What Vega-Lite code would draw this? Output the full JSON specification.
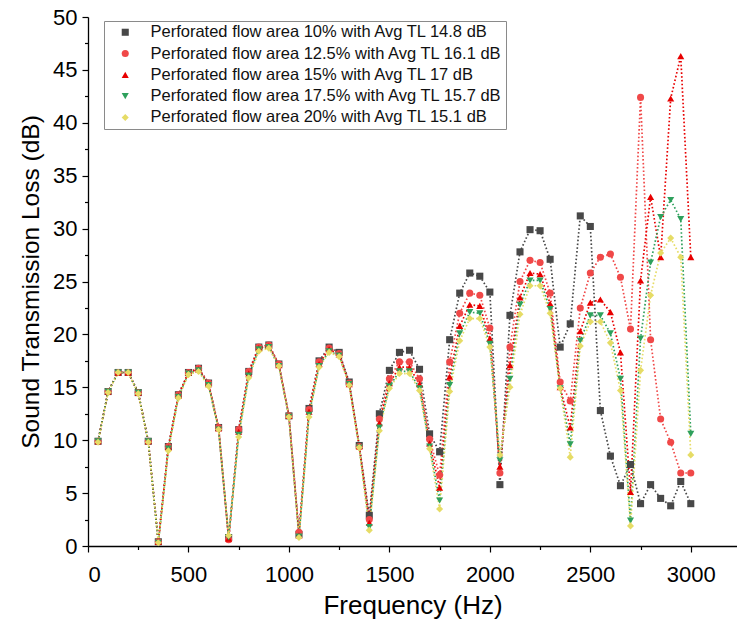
{
"$schema":"https://vega.github.io/schema/vega-lite/v6.json",
"width":649,"height":529,
"autosize":{"type":"none"},
"padding":{"left":88,"top":17,"right":0,"bottom":86},
"background":"white",
"config":{"view":{"stroke":null},"font":"Liberation Sans","axis":{"grid":false,"domainColor":"black","tickColor":"black","labelColor":"black","titleColor":"black","labelFont":"Liberation Sans","titleFont":"Liberation Sans","titleFontWeight":"normal","domainWidth":1.3,"tickWidth":1.2}},
"data":{"values":[
{"f":50,"s":"10%","v":9.9},{"f":100,"s":"10%","v":14.6},{"f":150,"s":"10%","v":16.4},{"f":200,"s":"10%","v":16.4},{"f":250,"s":"10%","v":14.5},{"f":300,"s":"10%","v":9.9},{"f":350,"s":"10%","v":0.4},{"f":400,"s":"10%","v":9.4},{"f":450,"s":"10%","v":14.3},{"f":500,"s":"10%","v":16.4},{"f":550,"s":"10%","v":16.8},{"f":600,"s":"10%","v":15.4},{"f":650,"s":"10%","v":11.2},{"f":700,"s":"10%","v":0.8},{"f":750,"s":"10%","v":11.0},{"f":800,"s":"10%","v":16.5},{"f":850,"s":"10%","v":18.8},{"f":900,"s":"10%","v":19.0},{"f":950,"s":"10%","v":17.2},{"f":1000,"s":"10%","v":12.3},{"f":1050,"s":"10%","v":1.1},{"f":1100,"s":"10%","v":13.0},{"f":1150,"s":"10%","v":17.5},{"f":1200,"s":"10%","v":18.8},{"f":1250,"s":"10%","v":18.3},{"f":1300,"s":"10%","v":15.5},{"f":1350,"s":"10%","v":9.5},{"f":1400,"s":"10%","v":2.9},{"f":1450,"s":"10%","v":12.5},{"f":1500,"s":"10%","v":16.6},{"f":1550,"s":"10%","v":18.3},{"f":1600,"s":"10%","v":18.5},{"f":1650,"s":"10%","v":16.7},{"f":1700,"s":"10%","v":10.6},{"f":1750,"s":"10%","v":8.9},{"f":1800,"s":"10%","v":19.5},{"f":1850,"s":"10%","v":23.9},{"f":1900,"s":"10%","v":25.8},{"f":1950,"s":"10%","v":25.5},{"f":2000,"s":"10%","v":24.0},{"f":2050,"s":"10%","v":5.8},{"f":2100,"s":"10%","v":21.8},{"f":2150,"s":"10%","v":27.8},{"f":2200,"s":"10%","v":29.9},{"f":2250,"s":"10%","v":29.8},{"f":2300,"s":"10%","v":27.1},{"f":2350,"s":"10%","v":18.8},{"f":2400,"s":"10%","v":21.0},{"f":2450,"s":"10%","v":31.2},{"f":2500,"s":"10%","v":30.2},{"f":2550,"s":"10%","v":12.8},{"f":2600,"s":"10%","v":8.5},{"f":2650,"s":"10%","v":5.7},{"f":2700,"s":"10%","v":7.7},{"f":2750,"s":"10%","v":4.0},{"f":2800,"s":"10%","v":5.8},{"f":2850,"s":"10%","v":4.5},{"f":2900,"s":"10%","v":3.8},{"f":2950,"s":"10%","v":6.1},{"f":3000,"s":"10%","v":4.0},
{"f":50,"s":"12.5%","v":9.9},{"f":100,"s":"12.5%","v":14.6},{"f":150,"s":"12.5%","v":16.4},{"f":200,"s":"12.5%","v":16.4},{"f":250,"s":"12.5%","v":14.5},{"f":300,"s":"12.5%","v":9.9},{"f":350,"s":"12.5%","v":0.4},{"f":400,"s":"12.5%","v":9.4},{"f":450,"s":"12.5%","v":14.3},{"f":500,"s":"12.5%","v":16.4},{"f":550,"s":"12.5%","v":16.8},{"f":600,"s":"12.5%","v":15.4},{"f":650,"s":"12.5%","v":11.2},{"f":700,"s":"12.5%","v":0.6},{"f":750,"s":"12.5%","v":11.0},{"f":800,"s":"12.5%","v":16.5},{"f":850,"s":"12.5%","v":18.8},{"f":900,"s":"12.5%","v":19.0},{"f":950,"s":"12.5%","v":17.2},{"f":1000,"s":"12.5%","v":12.3},{"f":1050,"s":"12.5%","v":1.3},{"f":1100,"s":"12.5%","v":12.9},{"f":1150,"s":"12.5%","v":17.4},{"f":1200,"s":"12.5%","v":18.7},{"f":1250,"s":"12.5%","v":18.2},{"f":1300,"s":"12.5%","v":15.4},{"f":1350,"s":"12.5%","v":9.4},{"f":1400,"s":"12.5%","v":2.5},{"f":1450,"s":"12.5%","v":12.0},{"f":1500,"s":"12.5%","v":15.8},{"f":1550,"s":"12.5%","v":17.4},{"f":1600,"s":"12.5%","v":17.4},{"f":1650,"s":"12.5%","v":15.8},{"f":1700,"s":"12.5%","v":10.1},{"f":1750,"s":"12.5%","v":6.7},{"f":1800,"s":"12.5%","v":17.4},{"f":1850,"s":"12.5%","v":22.0},{"f":1900,"s":"12.5%","v":23.9},{"f":1950,"s":"12.5%","v":23.7},{"f":2000,"s":"12.5%","v":20.6},{"f":2050,"s":"12.5%","v":6.9},{"f":2100,"s":"12.5%","v":18.8},{"f":2150,"s":"12.5%","v":25.0},{"f":2200,"s":"12.5%","v":27.0},{"f":2250,"s":"12.5%","v":26.8},{"f":2300,"s":"12.5%","v":23.9},{"f":2350,"s":"12.5%","v":15.5},{"f":2400,"s":"12.5%","v":13.7},{"f":2450,"s":"12.5%","v":22.5},{"f":2500,"s":"12.5%","v":25.8},{"f":2550,"s":"12.5%","v":27.3},{"f":2600,"s":"12.5%","v":27.6},{"f":2650,"s":"12.5%","v":25.4},{"f":2700,"s":"12.5%","v":20.5},{"f":2750,"s":"12.5%","v":42.4},{"f":2800,"s":"12.5%","v":19.5},{"f":2850,"s":"12.5%","v":12.0},{"f":2900,"s":"12.5%","v":9.8},{"f":2950,"s":"12.5%","v":6.9},{"f":3000,"s":"12.5%","v":6.9},
{"f":50,"s":"15%","v":9.9},{"f":100,"s":"15%","v":14.6},{"f":150,"s":"15%","v":16.4},{"f":200,"s":"15%","v":16.4},{"f":250,"s":"15%","v":14.5},{"f":300,"s":"15%","v":9.9},{"f":350,"s":"15%","v":0.4},{"f":400,"s":"15%","v":9.3},{"f":450,"s":"15%","v":14.2},{"f":500,"s":"15%","v":16.4},{"f":550,"s":"15%","v":16.7},{"f":600,"s":"15%","v":15.3},{"f":650,"s":"15%","v":11.1},{"f":700,"s":"15%","v":0.7},{"f":750,"s":"15%","v":10.8},{"f":800,"s":"15%","v":16.3},{"f":850,"s":"15%","v":18.7},{"f":900,"s":"15%","v":18.9},{"f":950,"s":"15%","v":17.1},{"f":1000,"s":"15%","v":12.3},{"f":1050,"s":"15%","v":1.0},{"f":1100,"s":"15%","v":12.7},{"f":1150,"s":"15%","v":17.2},{"f":1200,"s":"15%","v":18.6},{"f":1250,"s":"15%","v":18.1},{"f":1300,"s":"15%","v":15.3},{"f":1350,"s":"15%","v":9.4},{"f":1400,"s":"15%","v":2.2},{"f":1450,"s":"15%","v":11.6},{"f":1500,"s":"15%","v":15.4},{"f":1550,"s":"15%","v":16.9},{"f":1600,"s":"15%","v":16.9},{"f":1650,"s":"15%","v":15.3},{"f":1700,"s":"15%","v":9.7},{"f":1750,"s":"15%","v":5.5},{"f":1800,"s":"15%","v":16.0},{"f":1850,"s":"15%","v":20.8},{"f":1900,"s":"15%","v":22.8},{"f":1950,"s":"15%","v":22.7},{"f":2000,"s":"15%","v":19.6},{"f":2050,"s":"15%","v":7.5},{"f":2100,"s":"15%","v":17.1},{"f":2150,"s":"15%","v":23.5},{"f":2200,"s":"15%","v":25.8},{"f":2250,"s":"15%","v":25.7},{"f":2300,"s":"15%","v":22.9},{"f":2350,"s":"15%","v":15.0},{"f":2400,"s":"15%","v":11.2},{"f":2450,"s":"15%","v":20.3},{"f":2500,"s":"15%","v":23.0},{"f":2550,"s":"15%","v":23.3},{"f":2600,"s":"15%","v":22.1},{"f":2650,"s":"15%","v":18.3},{"f":2700,"s":"15%","v":5.1},{"f":2750,"s":"15%","v":25.1},{"f":2800,"s":"15%","v":33.0},{"f":2850,"s":"15%","v":27.3},{"f":2900,"s":"15%","v":42.3},{"f":2950,"s":"15%","v":46.3},{"f":3000,"s":"15%","v":27.3},
{"f":50,"s":"17.5%","v":9.9},{"f":100,"s":"17.5%","v":14.6},{"f":150,"s":"17.5%","v":16.4},{"f":200,"s":"17.5%","v":16.4},{"f":250,"s":"17.5%","v":14.5},{"f":300,"s":"17.5%","v":9.9},{"f":350,"s":"17.5%","v":0.3},{"f":400,"s":"17.5%","v":9.2},{"f":450,"s":"17.5%","v":14.1},{"f":500,"s":"17.5%","v":16.3},{"f":550,"s":"17.5%","v":16.6},{"f":600,"s":"17.5%","v":15.2},{"f":650,"s":"17.5%","v":11.0},{"f":700,"s":"17.5%","v":0.8},{"f":750,"s":"17.5%","v":10.5},{"f":800,"s":"17.5%","v":16.1},{"f":850,"s":"17.5%","v":18.6},{"f":900,"s":"17.5%","v":18.8},{"f":950,"s":"17.5%","v":17.0},{"f":1000,"s":"17.5%","v":12.2},{"f":1050,"s":"17.5%","v":0.9},{"f":1100,"s":"17.5%","v":12.4},{"f":1150,"s":"17.5%","v":17.0},{"f":1200,"s":"17.5%","v":18.4},{"f":1250,"s":"17.5%","v":18.0},{"f":1300,"s":"17.5%","v":15.3},{"f":1350,"s":"17.5%","v":9.3},{"f":1400,"s":"17.5%","v":1.8},{"f":1450,"s":"17.5%","v":11.2},{"f":1500,"s":"17.5%","v":15.1},{"f":1550,"s":"17.5%","v":16.5},{"f":1600,"s":"17.5%","v":16.5},{"f":1650,"s":"17.5%","v":14.9},{"f":1700,"s":"17.5%","v":9.4},{"f":1750,"s":"17.5%","v":4.3},{"f":1800,"s":"17.5%","v":15.2},{"f":1850,"s":"17.5%","v":20.1},{"f":1900,"s":"17.5%","v":22.1},{"f":1950,"s":"17.5%","v":22.0},{"f":2000,"s":"17.5%","v":19.1},{"f":2050,"s":"17.5%","v":8.1},{"f":2100,"s":"17.5%","v":15.8},{"f":2150,"s":"17.5%","v":22.8},{"f":2200,"s":"17.5%","v":25.1},{"f":2250,"s":"17.5%","v":25.1},{"f":2300,"s":"17.5%","v":22.4},{"f":2350,"s":"17.5%","v":14.9},{"f":2400,"s":"17.5%","v":9.6},{"f":2450,"s":"17.5%","v":19.4},{"f":2500,"s":"17.5%","v":21.8},{"f":2550,"s":"17.5%","v":21.8},{"f":2600,"s":"17.5%","v":20.1},{"f":2650,"s":"17.5%","v":15.8},{"f":2700,"s":"17.5%","v":2.4},{"f":2750,"s":"17.5%","v":19.6},{"f":2800,"s":"17.5%","v":26.8},{"f":2850,"s":"17.5%","v":31.1},{"f":2900,"s":"17.5%","v":32.7},{"f":2950,"s":"17.5%","v":30.9},{"f":3000,"s":"17.5%","v":10.6},
{"f":50,"s":"20%","v":9.8},{"f":100,"s":"20%","v":14.5},{"f":150,"s":"20%","v":16.4},{"f":200,"s":"20%","v":16.4},{"f":250,"s":"20%","v":14.4},{"f":300,"s":"20%","v":9.8},{"f":350,"s":"20%","v":0.3},{"f":400,"s":"20%","v":9.0},{"f":450,"s":"20%","v":14.0},{"f":500,"s":"20%","v":16.2},{"f":550,"s":"20%","v":16.5},{"f":600,"s":"20%","v":15.1},{"f":650,"s":"20%","v":11.0},{"f":700,"s":"20%","v":1.0},{"f":750,"s":"20%","v":10.3},{"f":800,"s":"20%","v":15.9},{"f":850,"s":"20%","v":18.4},{"f":900,"s":"20%","v":18.7},{"f":950,"s":"20%","v":17.0},{"f":1000,"s":"20%","v":12.2},{"f":1050,"s":"20%","v":0.8},{"f":1100,"s":"20%","v":12.2},{"f":1150,"s":"20%","v":16.9},{"f":1200,"s":"20%","v":18.3},{"f":1250,"s":"20%","v":17.9},{"f":1300,"s":"20%","v":15.2},{"f":1350,"s":"20%","v":9.3},{"f":1400,"s":"20%","v":1.5},{"f":1450,"s":"20%","v":10.9},{"f":1500,"s":"20%","v":14.9},{"f":1550,"s":"20%","v":16.3},{"f":1600,"s":"20%","v":16.3},{"f":1650,"s":"20%","v":14.7},{"f":1700,"s":"20%","v":9.2},{"f":1750,"s":"20%","v":3.5},{"f":1800,"s":"20%","v":14.6},{"f":1850,"s":"20%","v":19.4},{"f":1900,"s":"20%","v":21.5},{"f":1950,"s":"20%","v":21.5},{"f":2000,"s":"20%","v":18.8},{"f":2050,"s":"20%","v":8.6},{"f":2100,"s":"20%","v":15.0},{"f":2150,"s":"20%","v":21.9},{"f":2200,"s":"20%","v":24.6},{"f":2250,"s":"20%","v":24.6},{"f":2300,"s":"20%","v":22.0},{"f":2350,"s":"20%","v":14.9},{"f":2400,"s":"20%","v":8.4},{"f":2450,"s":"20%","v":18.9},{"f":2500,"s":"20%","v":21.2},{"f":2550,"s":"20%","v":21.2},{"f":2600,"s":"20%","v":19.2},{"f":2650,"s":"20%","v":14.7},{"f":2700,"s":"20%","v":1.9},{"f":2750,"s":"20%","v":16.6},{"f":2800,"s":"20%","v":23.7},{"f":2850,"s":"20%","v":27.7},{"f":2900,"s":"20%","v":29.1},{"f":2950,"s":"20%","v":27.3},{"f":3000,"s":"20%","v":8.6}
]},
"layer":[
{"mark":{"type":"line","strokeDash":[1.6,2.2],"strokeWidth":1.7},
 "encoding":{
  "x":{"field":"f","type":"quantitative","scale":{"domain":[0,3230],"nice":false,"zero":false},"axis":{"values":[0,500,1000,1500,2000,2500,3000],"format":"d","title":"Frequency (Hz)","titleFontSize":26,"labelFontSize":22,"tickSize":6,"labelPadding":12,"titlePadding":7,"orient":"bottom"}},
  "y":{"field":"v","type":"quantitative","scale":{"domain":[0,50],"nice":false},"axis":{"values":[0,5,10,15,20,25,30,35,40,45,50],"title":"Sound Transmission Loss (dB)","titleFontSize":24.5,"labelFontSize":22,"tickSize":6,"labelPadding":5,"titlePadding":9,"orient":"left"}},
  "color":{"field":"s","type":"nominal","scale":{"domain":["10%","12.5%","15%","17.5%","20%"],"range":["#484848","#f04848","#e80000","#2ea05c","#e6dc66"]}},
  "detail":{"field":"s"}
 }},
{"mark":{"type":"point","filled":true,"opacity":1,"size":50},
 "encoding":{
  "x":{"field":"f","type":"quantitative","axis":{"values":[250,750,1250,1750,2250,2750],"labels":false,"domain":false,"tickSize":3.5,"title":null,"orient":"bottom"}},
  "y":{"field":"v","type":"quantitative","axis":{"values":[2.5,7.5,12.5,17.5,22.5,27.5,32.5,37.5,42.5,47.5],"labels":false,"domain":false,"tickSize":3.5,"title":null,"orient":"left"}},
  "color":{"field":"s","type":"nominal","legend":{"title":null,"orient":"none","legendX":16,"legendY":4,"padding":3,"strokeColor":"#8a8a8a","fillColor":"white","labelFontSize":16.5,"labelColor":"#111","labelFont":"Liberation Sans","symbolSize":50,"symbolOffset":10,"labelOffset":17,"rowPadding":4.3,"symbolStrokeWidth":0,"labelLimit":500,
   "labelExpr":"'Perforated flow area ' + datum.label + ' with Avg TL ' + (datum.label == '10%' ? '14.8' : datum.label == '12.5%' ? '16.1' : datum.label == '15%' ? '17' : datum.label == '17.5%' ? '15.7' : '15.1') + ' dB'"}},
  "shape":{"field":"s","type":"nominal","scale":{"domain":["10%","12.5%","15%","17.5%","20%"],"range":["square","circle","triangle-up","triangle-down","diamond"]}}
 }}
],
"resolve":{"axis":{"x":"independent","y":"independent"}}
}
